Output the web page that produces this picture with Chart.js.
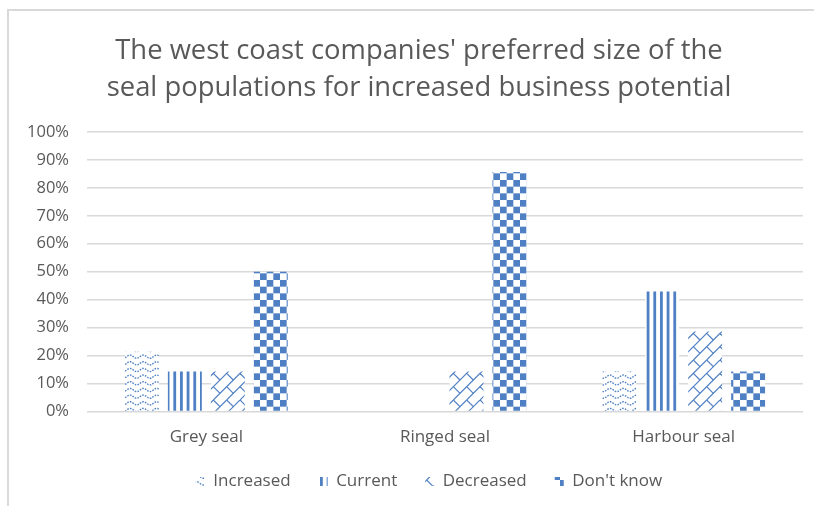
<!DOCTYPE html>
<html>
<head>
<meta charset="utf-8">
<script src="https://cdn.jsdelivr.net/npm/chart.js@4"></script>
<style>
  body { margin: 0; background: #fff; }
  #wrap { position: relative; width: 814px; height: 506px; }
  #frame { position: absolute; left: 7px; top: 9px; right: -2px; bottom: -2px;
           border-left: 2px solid #d9d9d9; border-top: 2px solid #d9d9d9; }
  canvas { position: absolute; left: 0; top: 0; }
</style>
</head>
<body>
<div id="wrap">
  <div id="frame"></div>
  <canvas id="sealChart" width="814" height="506"></canvas>
</div>
<script>
// species and share of answers (fractions of 1)
const species = ["Grey seal", "Ringed seal", "Harbour seal"];
const increased = [0.214, 0, 0.143];
const current = [0.143, 0, 0.429];
const decreased = [0.143, 0.143, 0.286];
const dontKnow = [0.5, 0.857, 0.143];
const yTicks = [0, 0.1, 0.2, 0.3, 0.4, 0.5, 0.6, 0.7, 0.8, 0.9, 1];

const BLUE = "#4f80c3";
const GREY_TEXT = "#595959";
const FONT = "Open Sans";
const P = 20 / 3;

function makeTile(size, draw) {
    let c = document.createElement("canvas");
    c.width = size;
    c.height = size;
    let g = c.getContext("2d");
    g.fillStyle = "#fff";
    g.fillRect(0, 0, size, size);
    draw(g, size);
    return g.createPattern(c, "repeat");
}

// dotted waves
let wavePattern = makeTile(40, function (g, s) {
    g.strokeStyle = BLUE;
    g.lineWidth = 1.4;
    g.setLineDash([1.6, 1.2]);
    for (let j = 0; j < 6; j++) {
        g.beginPath();
        for (let x = 0; x <= s; x += 0.5) {
            let y = j * P + P / 2 + 1.6 * Math.sin(2 * Math.PI * x / (2 * P));
            if (x === 0) g.moveTo(x, y); else g.lineTo(x, y);
        }
        g.stroke();
    }
});

// vertical stripes
let stripePattern = makeTile(40, function (g) {
    g.fillStyle = BLUE;
    for (let i = 0; i < 6; i++) g.fillRect(i * P, 0, 2.8, 40);
});

// diagonal shingles: "/" rows with staggered short joints
let shinglePattern = makeTile(40, function (g, s) {
    g.strokeStyle = BLUE;
    g.lineWidth = 1.2;
    let step = 2 * P;
    for (let k = -4; k < 8; k++) {
        g.beginPath();
        g.moveTo(k * step, s);
        g.lineTo(k * step + s, 0);
        g.stroke();
        for (let m = -2; m < 6; m++) {
            let t = m * step;
            let x = k * step + t, y = s - t;
            g.beginPath();
            g.moveTo(x, y);
            g.lineTo(x + P, y + P);
            g.stroke();
        }
    }
});

// checkerboard
let checkerPattern = makeTile(40, function (g) {
    g.fillStyle = BLUE;
    for (let i = 0; i < 6; i++) {
        for (let j = 0; j < 6; j++) {
            if ((i + j) % 2 === 0) g.fillRect(i * P, j * P, P, P);
        }
    }
});

// shifts title and legend boxes after layout
const boxNudge = {
    id: "boxNudge",
    afterLayout: function (chart, args, opts) {
        let t = chart.titleBlock, lg = chart.legend;
        t.left += opts.titleDx; t.right += opts.titleDx;
        lg.left += opts.legendDx; lg.right += opts.legendDx;
        lg.top += opts.legendDy; lg.bottom += opts.legendDy;
    }
};

let ctx = document.getElementById("sealChart").getContext("2d");
new Chart(ctx, {
    type: "bar",
    data: {
        labels: species,
        datasets: [
            { label: "Increased", data: increased, backgroundColor: wavePattern },
            { label: "Current", data: current, backgroundColor: stripePattern },
            { label: "Decreased", data: decreased, backgroundColor: shinglePattern },
            { label: "Don't know", data: dontKnow, backgroundColor: checkerPattern }
        ]
    },
    plugins: [boxNudge],
    options: {
        responsive: false,
        animation: false,
        layout: { padding: { top: 33, right: 11, bottom: 0, left: 0 } },
        datasets: {
            bar: { categoryPercentage: 0.72, barPercentage: 0.79, borderWidth: 0 }
        },
        plugins: {
            title: {
                display: true,
                text: ["The west coast companies' preferred size of the",
                       "seal populations for increased business potential"],
                color: GREY_TEXT,
                font: { family: FONT, size: 27.4, weight: "normal", lineHeight: 1.35 },
                padding: { top: 0, bottom: 25 }
            },
            legend: {
                position: "bottom",
                labels: {
                    color: GREY_TEXT,
                    font: { family: FONT, size: 17 },
                    boxWidth: 9,
                    boxHeight: 9,
                    padding: 28
                }
            },
            boxNudge: { titleDx: 17.5, legendDx: 27.5, legendDy: -6 },
            tooltip: { enabled: false }
        },
        scales: {
            x: {
                grid: { display: false, drawTicks: false },
                border: { display: false },
                ticks: { color: GREY_TEXT, font: { family: FONT, size: 17 }, padding: 15 },
                afterFit: function (s) { s.height = 39.5; }
            },
            y: {
                min: 0,
                max: 1,
                afterBuildTicks: function (s) {
                    s.ticks = yTicks.map(function (v) { return { value: v }; });
                },
                grid: { color: "#d9d9d9", lineWidth: 1.4, drawTicks: false },
                border: { display: false },
                ticks: {
                    color: GREY_TEXT,
                    font: { family: FONT, size: 16.5 },
                    padding: 18,
                    callback: function (v) { return Math.round(v * 100) + "%"; }
                },
                afterFit: function (s) { s.width = 87; }
            }
        }
    }
});
</script>
</body>
</html>
